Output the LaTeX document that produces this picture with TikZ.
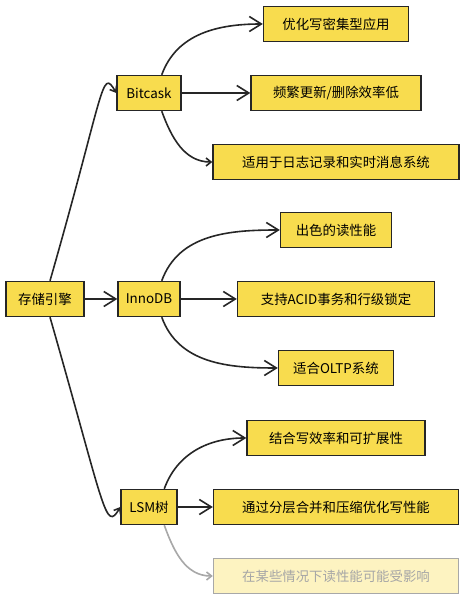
\documentclass[tikz,border=0pt]{standalone}
\usepackage{fontspec}
\setmainfont{Noto Sans CJK SC}
\usetikzlibrary{arrows.meta,calc}
\definecolor{boxyellow}{HTML}{F8DC4E}
\definecolor{ink}{HTML}{262626}
\tikzset{
  VertexStyle/.style = {draw=ink, line width=1.4pt, fill=boxyellow,
                        minimum height=35pt, inner sep=0pt,
                        font=\fontsize{13.4}{15}\selectfont},
  FadedStyle/.style  = {fill=boxyellow!35, draw=ink!40, text=black!35},
  EdgeStyle/.style   = {draw=ink, line width=1.6pt,
                        -{Straight Barb[length=12pt,width=15pt]}},
  HookStyle/.style   = {draw=ink, line width=1.6pt,
                        -{Straight Barb[length=5pt,width=8pt]}}
}

\begin{document}
\begin{tikzpicture}[x=1pt,y=1pt]
	\fill[white] (0,0) rectangle (466,600);
	\useasboundingbox (0,0) rectangle (466,600);
	\node[VertexStyle, minimum width=78pt] (root) at (45,301) {存储引擎};
	\node[VertexStyle, minimum width=64pt] (bit)  at (149,507) {Bitcask};
	\node[VertexStyle, minimum width=62pt] (inno) at (149,301) {InnoDB};
	\node[VertexStyle, minimum width=56pt] (lsm)  at (149,93) {LSM树};
	% Bitcask
	\node[VertexStyle, minimum width=145pt] (bitA) at (336,576) {优化写密集型应用};
	\node[VertexStyle, minimum width=170pt] (bitB) at (336,507) {频繁更新/删除效率低};
	\node[VertexStyle, minimum width=246pt] (bitC) at (336,438) {适用于日志记录和实时消息系统};
	% InnoDB
	\node[VertexStyle, minimum width=111pt] (innoA) at (336,370) {出色的读性能};
	\node[VertexStyle, minimum width=197pt] (innoB) at (336,301) {支持ACID事务和行级锁定};
	\node[VertexStyle, minimum width=115pt] (innoC) at (336,232) {适合OLTP系统};
	% LSM
	\node[VertexStyle, minimum width=178pt] (lsmA) at (336,162) {结合写效率和可扩展性};
	\node[VertexStyle, minimum width=245pt] (lsmB) at (336,93) {通过分层合并和压缩优化写性能};
	\node[VertexStyle, FadedStyle, minimum width=245pt] (lsmC) at (336,24) {在某些情况下读性能可能受影响};
	% edges
	\draw[HookStyle] ($(root.north)+(5,0)$) .. controls +(74:200) and +(120:30) .. (bit.west);
	\draw[EdgeStyle] (root.east) -- (inno.west);
	\draw[HookStyle] ($(root.south)+(5,0)$) .. controls +(-74:200) and +(-120:30) .. (lsm.west);
	\draw[EdgeStyle] (bit.55) to[out=70,in=180] (bitA.west);
	\draw[EdgeStyle] (bit.east) -- (bitB.west);
	\draw[HookStyle] (bit.-55) to[out=-70,in=180] (bitC.west);
	\draw[EdgeStyle] (inno.55) to[out=70,in=180] (innoA.west);
	\draw[EdgeStyle] (inno.east) -- (innoB.west);
	\draw[EdgeStyle] (inno.-55) to[out=-70,in=180] (innoC.west);
	\draw[EdgeStyle] (lsm.50) to[out=70,in=180] (lsmA.west);
	\draw[EdgeStyle] (lsm.east) -- (lsmB.west);
	\draw[HookStyle, draw=ink!40] (lsm.-50) to[out=-70,in=180] (lsmC.west);
\end{tikzpicture}
\end{document}
